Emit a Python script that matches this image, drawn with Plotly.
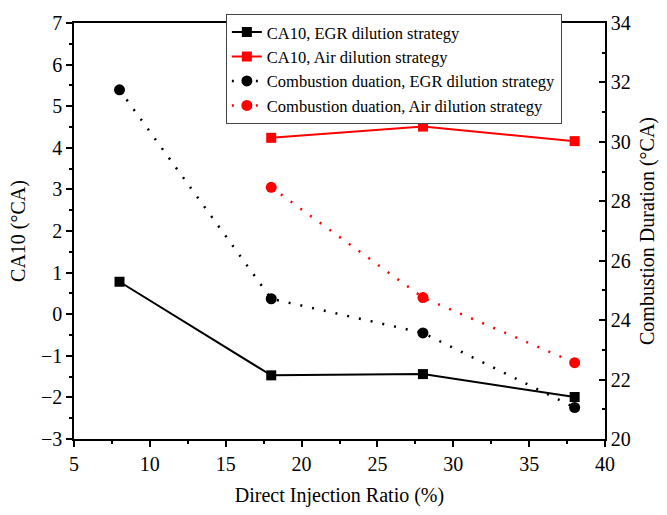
import plotly.graph_objects as go

# Direct injection ratio (%)
di_ratio_egr = [8, 18, 28, 38]
di_ratio_air = [18, 28, 38]

# CA10 (°CA)
ca10_egr = [0.78, -1.47, -1.44, -1.99]
ca10_air = [4.24, 4.51, 4.16]

# Combustion duration (°CA)
dur_egr = [31.75, 24.72, 23.57, 21.06]
dur_air = [28.47, 24.76, 22.57]

font_family = "Liberation Serif"
dot_dash = "2px,10px"

fig = go.Figure()

fig.add_trace(go.Scatter(
    x=di_ratio_egr, y=ca10_egr, mode="lines+markers",
    name="CA10, EGR dilution strategy",
    line=dict(color="black", width=2),
    marker=dict(symbol="square", size=10, color="black"),
    yaxis="y"))
fig.add_trace(go.Scatter(
    x=di_ratio_air, y=ca10_air, mode="lines+markers",
    name="CA10, Air dilution strategy",
    line=dict(color="red", width=2),
    marker=dict(symbol="square", size=10, color="red"),
    yaxis="y"))
fig.add_trace(go.Scatter(
    x=di_ratio_egr, y=dur_egr, mode="lines+markers",
    name="Combustion duation, EGR dilution strategy",
    line=dict(color="black", width=2.5, dash=dot_dash),
    marker=dict(symbol="circle", size=11, color="black"),
    yaxis="y2"))
fig.add_trace(go.Scatter(
    x=di_ratio_air, y=dur_air, mode="lines+markers",
    name="Combustion duation, Air dilution strategy",
    line=dict(color="red", width=2.5, dash=dot_dash),
    marker=dict(symbol="circle", size=11, color="red"),
    yaxis="y2"))


def tick_font():
    return dict(family=font_family, size=20, color="black")


def title_font():
    return dict(family=font_family, size=20, color="black")


line_style = dict(showgrid=False, zeroline=False, showline=True, linecolor="black",
                  linewidth=1.5, tickcolor="black", tickwidth=1.5)

fig.update_layout(
    width=667, height=515,
    margin=dict(l=74, r=61, t=14, b=74),
    paper_bgcolor="white", plot_bgcolor="white",
    font=dict(family=font_family, size=20, color="black"),
    showlegend=True,
    legend=dict(
        x=0.286, y=1.022, xanchor="left", yanchor="top",
        bgcolor="white", bordercolor="#444", borderwidth=1,
        font=dict(family=font_family, size=16.5, color="black"),
        tracegroupgap=0, itemwidth=30,
    ),
    xaxis=dict(
        **line_style, tickfont=tick_font(),
        range=[5, 40], tick0=5, dtick=5, ticks="outside", ticklen=6,
        minor=dict(ticks="outside", dtick=2.5, ticklen=3, tickcolor="black", tickwidth=1.5),
        mirror=True,
        title=dict(text="Direct Injection Ratio (%)", standoff=14, font=title_font()),
    ),
    yaxis=dict(
        **line_style, tickfont=tick_font(),
        range=[-3, 7], tick0=-3, dtick=1, ticks="outside", ticklen=6,
        minor=dict(ticks="outside", dtick=0.5, ticklen=3, tickcolor="black", tickwidth=1.5),
        title=dict(text="CA10 (°CA)", standoff=10, font=title_font()),
    ),
    yaxis2=dict(
        **line_style, tickfont=tick_font(),
        overlaying="y", side="right",
        range=[20, 34], tick0=20, dtick=2, ticks="inside", ticklen=6,
        minor=dict(ticks="inside", dtick=1, ticklen=3, tickcolor="black", tickwidth=1.5),
        title=dict(text="Combustion Duration (°CA)", standoff=10, font=title_font()),
    ),
)

fig.write_html("out.html")
